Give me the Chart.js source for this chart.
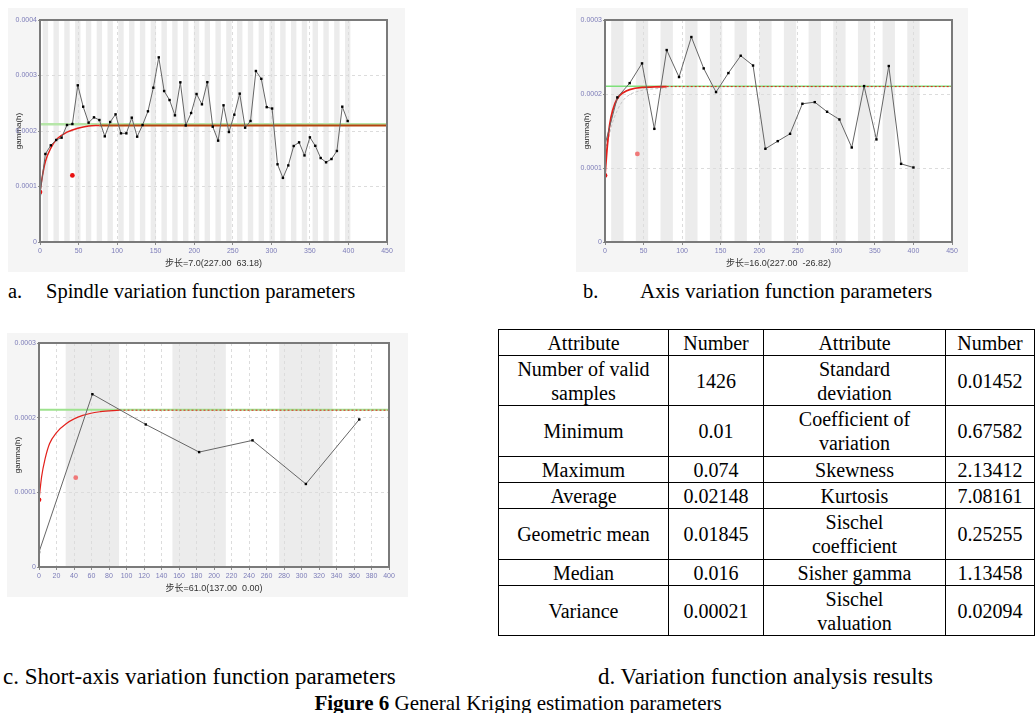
<!DOCTYPE html>
<html><head><meta charset="utf-8">
<script src="https://cdn.jsdelivr.net/npm/chart.js@4.4.0/dist/chart.umd.min.js"></script>
<style>
html,body{margin:0;padding:0;background:#fff;}
body{width:1036px;height:713px;position:relative;overflow:hidden;font-family:"Liberation Serif","Times New Roman",serif;color:#000;}
canvas{position:absolute;display:block;}
.cap{position:absolute;white-space:pre;font-size:20.5px;line-height:24px;}
.bcap{position:absolute;white-space:pre;font-size:23px;line-height:26px;}
table{position:absolute;left:498px;top:329px;border-collapse:collapse;font-size:20px;line-height:24px;}
td{border:1.5px solid #000;text-align:center;vertical-align:middle;padding:0;}
</style></head><body>
<canvas id="ca" width="397" height="264" style="left:8px;top:8px"></canvas>
<canvas id="cb" width="392" height="264" style="left:576px;top:8px"></canvas>
<canvas id="cc" width="401" height="264" style="left:7px;top:333px"></canvas>

<div class="cap" style="left:8px;top:279px">a.</div>
<div class="cap" style="left:46px;top:279px">Spindle variation function parameters</div>
<div class="cap" style="left:583px;top:279px">b.</div>
<div class="cap" style="left:640px;top:279px;font-size:21px">Axis variation function parameters</div>

<table id="tbl"></table>

<div class="bcap" style="left:3px;top:664px">c. Short-axis variation function parameters</div>
<div class="bcap" style="left:598px;top:664px">d. Variation function analysis results</div>
<div class="bcap" style="left:0;width:1036px;text-align:center;top:690px;font-size:21px"><b>Figure 6</b> General Kriging estimation parameters</div>

<script>
// ---------- Chart a (spindle) ----------
const lagsA = [0,7,14,21,28,35,42,49,56,63,70,77,84,91,98,105,112,119,126,133,140,147,154,161,168,175,182,189,196,203,210,217,224,231,238,245,252,259,266,273,280,287,294,301,308,315,322,329,336,343,350,357,364,371,378,385,392,399];
const gammaA = [0.865e-4,1.586e-4,1.742e-4,1.838e-4,1.88e-4,2.108e-4,2.126e-4,2.823e-4,2.438e-4,2.15e-4,2.246e-4,2.198e-4,1.904e-4,2.162e-4,2.30e-4,1.958e-4,1.958e-4,2.24e-4,1.898e-4,2.108e-4,2.355e-4,2.78e-4,3.327e-4,2.72e-4,2.558e-4,2.282e-4,2.877e-4,2.10e-4,2.324e-4,2.667e-4,2.481e-4,2.88e-4,2.078e-4,1.826e-4,2.463e-4,1.982e-4,2.294e-4,2.673e-4,2.06e-4,2.18e-4,3.081e-4,2.94e-4,2.43e-4,2.405e-4,1.40e-4,1.155e-4,1.38e-4,1.73e-4,1.796e-4,1.56e-4,1.886e-4,1.733e-4,1.513e-4,1.436e-4,1.495e-4,1.64e-4,2.438e-4,2.18e-4];
const modelLagsA = [0,3,7,14,21,28,35,49,63,77];
const modelA = [0.9e-4,1.18e-4,1.45e-4,1.69e-4,1.84e-4,1.92e-4,1.98e-4,2.05e-4,2.09e-4,2.10e-4];
const sillLagsA = [77,450];
const sillA = [2.10e-4,2.10e-4];
const varLagsA = [0,450];
const varA = [2.12e-4,2.12e-4];
const nuggetA = {x:[0,42], y:[0.9e-4,1.2e-4]};
const titleA = '步长=7.0(227.00  63.18)';

// ---------- Chart b (axis) ----------
const lagsB = [0,16,32,48,64,80,96,112,128,144,160,176,192,208,224,240,256,272,288,304,320,336,352,368,384,400];
const gammaB = [1.313e-4,1.954e-4,2.147e-4,2.414e-4,1.529e-4,2.594e-4,2.229e-4,2.77e-4,2.346e-4,2.026e-4,2.283e-4,2.517e-4,2.385e-4,1.26e-4,1.363e-4,1.462e-4,1.868e-4,1.89e-4,1.76e-4,1.656e-4,1.277e-4,2.107e-4,1.386e-4,2.378e-4,1.056e-4,1.007e-4];
const modelLagsB = [0,3,6,10,16,24,32,48,64,80];
const modelB = [0.9e-4,1.3e-4,1.58e-4,1.78e-4,1.94e-4,2.02e-4,2.06e-4,2.09e-4,2.095e-4,2.10e-4];
const altLagsB = [0,8,16,24,32,48,64,80];
const altB = [1.15e-4,1.55e-4,1.78e-4,1.92e-4,1.99e-4,2.05e-4,2.07e-4,2.08e-4];
const sillLagsB = [80,450];
const sillB = [2.10e-4,2.10e-4];
const varLagsB = [0,450];
const varB = [2.105e-4,2.105e-4];
const nuggetB = {x:[0,42], y:[0.9e-4,1.19e-4]};
const titleB = '步长=16.0(227.00  -26.82)';

// ---------- Chart c (short axis) ----------
const lagsC = [0,61,122,183,244,305,366];
const gammaC = [0.2e-4,2.314e-4,1.909e-4,1.539e-4,1.696e-4,1.112e-4,1.976e-4];
const modelLagsC = [0,3,7,12,20,31,50,70,92];
const modelC = [0.9e-4,1.21e-4,1.45e-4,1.65e-4,1.80e-4,1.92e-4,2.03e-4,2.08e-4,2.10e-4];
const sillLagsC = [92,400];
const sillC = [2.10e-4,2.10e-4];
const varLagsC = [0,400];
const varC = [2.105e-4,2.105e-4];
const nuggetC = {x:[0,42], y:[0.9e-4,1.196e-4]};
const titleC = '步长=61.0(137.00  0.00)';

// ---------- Table d ----------
const attrLeft = ['Number of valid\nsamples','Minimum','Maximum','Average','Geometric mean','Median','Variance'];
const numLeft = ['1426','0.01','0.074','0.02148','0.01845','0.016','0.00021'];
const attrRight = ['Standard\ndeviation','Coefficient of\nvariation','Skewness','Kurtosis','Sischel\ncoefficient','Sisher gamma','Sischel\nvaluation'];
const numRight = ['0.01452','0.67582','2.13412','7.08161','0.25255','1.13458','0.02094'];
const headers = ['Attribute','Number','Attribute','Number'];

const xy = (xs, ys) => xs.map((x,i)=>({x, y: ys[i]}));

const panelPlugin = {
  id: 'panel',
  beforeDraw(chart, args, opts) {
    const {ctx, chartArea: a, scales: {x}} = chart;
    ctx.save();
    ctx.fillStyle = '#f5f5f5';
    ctx.fillRect(0, 0, chart.width, chart.height);
    ctx.fillStyle = '#ffffff';
    ctx.fillRect(a.left, a.top, a.right - a.left, a.bottom - a.top);
    ctx.fillStyle = '#ececec';
    for (const c of opts.stripes) {
      const l = x.getPixelForValue(c - opts.w / 2), r = x.getPixelForValue(c + opts.w / 2);
      ctx.fillRect(l, a.top, r - l, a.bottom - a.top);
    }
    ctx.restore();
  },
  afterDraw(chart) {
    const {ctx, chartArea: a} = chart;
    ctx.save();
    ctx.strokeStyle = '#7a7a7a';
    ctx.lineWidth = 2;
    ctx.strokeRect(a.left, a.top, a.right - a.left, a.bottom - a.top);
    ctx.restore();
  }
};

function makeChart(id, cfg) {
  const datasets = [
    {data: xy(cfg.varL, cfg.varV), borderColor: cfg.varColor, borderWidth: cfg.varW, pointRadius: 0, order: 6},
    {data: xy(cfg.sillL, cfg.sillV), borderColor: cfg.sillColor, borderWidth: cfg.sillW, borderDash: cfg.sillDash, pointRadius: 0, order: 5},
  ];
  if (cfg.altL) datasets.push({data: xy(cfg.altL, cfg.altV), borderColor: '#c8c8c8', borderWidth: 1, borderDash: [3,2], pointRadius: 0, cubicInterpolationMode: 'monotone', order: 4});
  datasets.push({data: xy(cfg.modL, cfg.modV), borderColor: '#e3201b', borderWidth: cfg.modW, borderDash: cfg.modDash, pointRadius: 0, cubicInterpolationMode: 'monotone', order: 3});
  datasets.push({data: xy(cfg.lags, cfg.gamma), borderColor: '#666', borderWidth: 1, pointRadius: 1.7, pointStyle: 'rect', pointBackgroundColor: '#000', pointBorderColor: '#000', pointBorderWidth: 0, order: 2});
  datasets.push({data: xy(cfg.nug.x, cfg.nug.y), showLine: false, pointRadius: 2.4, pointBorderWidth: 0,
    pointBackgroundColor: [ '#e81010', cfg.nugColor2 ], order: 1});

  return new Chart(document.getElementById(id), {
    type: 'line',
    data: {datasets},
    options: {
      responsive: false, animation: false, devicePixelRatio: 1,
      layout: {autoPadding: false, padding: {left: 0, top: cfg.padTop, right: cfg.padRight, bottom: 0}},
      plugins: {legend: {display: false}, tooltip: {enabled: false}, panel: {stripes: cfg.stripes, w: cfg.stripeW}},
      elements: {line: {tension: 0}},
      scales: {
        x: {type: 'linear', min: 0, max: cfg.xMax,
          ticks: {stepSize: cfg.xStep, color: '#7c7cb8', font: {size: 7, family: 'Liberation Sans'}, padding: 2, maxRotation: 0, autoSkip: false},
          grid: {color: '#dcdcdc', tickLength: 3, tickColor: '#888', lineWidth: 1},
          border: {display: false, dash: [3,3]},
          title: {display: true, text: cfg.title, color: '#333', font: {size: 9, family: 'Liberation Sans, Noto Sans CJK SC'}, padding: {top: 0, bottom: 3}},
          afterFit(s) { s.height = cfg.xH; }
        },
        y: {min: 0, max: cfg.yMax,
          ticks: {stepSize: 0.0001, color: '#7c7cb8', font: {size: 7, family: 'Liberation Sans'}, padding: 1,
            callback: v => v === 0 ? '0' : v.toFixed(4)},
          grid: {color: '#dcdcdc', tickLength: 2, tickColor: '#888', lineWidth: 1},
          border: {display: false, dash: [3,3]},
          title: {display: true, text: 'gamma(h)', color: '#222', font: {size: 8, family: 'Liberation Sans'}, padding: {top: 6, bottom: 0}},
          afterFit(s) { s.width = cfg.yW; }
        }
      }
    },
    plugins: [panelPlugin]
  });
}

makeChart('ca', {lags: lagsA, gamma: gammaA, modL: modelLagsA, modV: modelA, modW: 1.5, modDash: [],
  sillL: sillLagsA, sillV: sillA, sillColor: '#b5440f', sillW: 2, sillDash: [],
  varL: varLagsA, varV: varA, varColor: '#b6e6a8', varW: 2.5,
  nug: nuggetA, nugColor2: '#e81010',
  stripes: lagsA.filter((_, i) => i % 2 === 1), stripeW: 7,
  xMax: 450, xStep: 50, yMax: 0.0004, title: titleA, padTop: 12, padRight: 18, xH: 30, yW: 32});

makeChart('cb', {lags: lagsB, gamma: gammaB, modL: modelLagsB, modV: modelB, modW: 1.8, modDash: [],
  altL: altLagsB, altV: altB,
  sillL: sillLagsB, sillV: sillB, sillColor: '#e3201b', sillW: 1, sillDash: [2,2],
  varL: varLagsB, varV: varB, varColor: '#7ee07a', varW: 1.5,
  nug: nuggetB, nugColor2: '#f07878',
  stripes: lagsB.filter((_, i) => i % 2 === 1), stripeW: 16,
  xMax: 450, xStep: 50, yMax: 0.0003, title: titleB, padTop: 12, padRight: 16, xH: 30, yW: 29});

makeChart('cc', {lags: lagsC, gamma: gammaC, modL: modelLagsC, modV: modelC, modW: 1.2, modDash: [],
  sillL: sillLagsC, sillV: sillC, sillColor: '#e3201b', sillW: 1, sillDash: [2,2],
  varL: varLagsC, varV: varC, varColor: '#9ee28e', varW: 2,
  nug: nuggetC, nugColor2: '#f07878',
  stripes: lagsC.filter((_, i) => i % 2 === 1), stripeW: 61,
  xMax: 400, xStep: 20, yMax: 0.0003, title: titleC, padTop: 10, padRight: 19, xH: 30, yW: 32});

// table
const colW = [170, 95, 182, 89];
const rowH = [26, 50, 51, 26, 26, 51, 26, 50];
const tbl = document.getElementById('tbl');
const cg = document.createElement('colgroup');
colW.forEach(w => { const c = document.createElement('col'); c.style.width = w + 'px'; cg.appendChild(c); });
tbl.appendChild(cg);
const addRow = (cells, h) => {
  const tr = document.createElement('tr');
  tr.style.height = h + 'px';
  cells.forEach(t => { const td = document.createElement('td'); td.innerHTML = t.replace('\n', '<br>'); td.style.height = (h - 2) + 'px'; tr.appendChild(td); });
  tbl.appendChild(tr);
};
addRow(headers, rowH[0]);
attrLeft.forEach((a, i) => addRow([a, numLeft[i], attrRight[i], numRight[i]], rowH[i + 1]));
tbl.style.width = colW.reduce((s, w) => s + w, 0) + 'px';
tbl.style.tableLayout = 'fixed';
</script>
</body></html>
